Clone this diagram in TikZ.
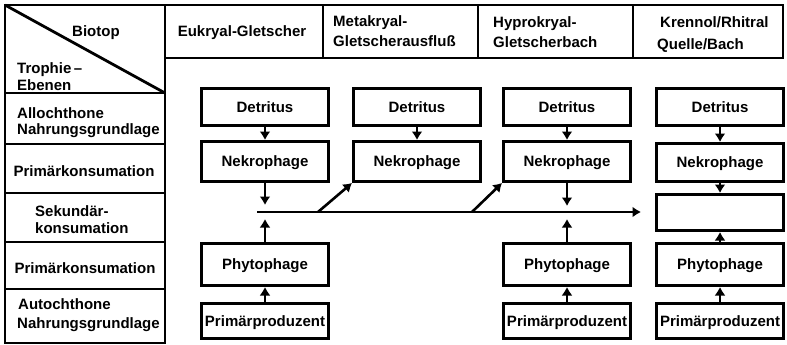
\documentclass[tikz,border=0pt]{standalone}
\usepackage{fontspec}
\setmainfont{Liberation Sans}
\usetikzlibrary{arrows.meta}
\tikzset{
  txt/.style={font=\fontsize{15}{17}\selectfont\bfseries, inner sep=0pt, anchor=base west},
  ctxt/.style={txt, anchor=base},
  box/.style={draw, line width=2.8pt, minimum width=127.2pt, inner sep=0pt,
    text height=10.7pt, text depth=0pt, font=\fontsize{15}{17}\selectfont\bfseries},
  detbox/.style={box, minimum height=37.2pt},
  nekbox/.style={box, minimum height=40.2pt},
  phybox/.style={box, minimum height=42.2pt},
  prodbox/.style={box, minimum height=35.2pt},
  arr/.style={line width=2.6pt, -{Latex[length=8.5pt,width=11pt]}},
  frame/.style={line width=2.8pt}
}
\begin{document}
\begin{tikzpicture}[x=1pt,y=-1pt]
\useasboundingbox (0,0) rectangle (787,345);
% table frame
\draw[frame] (5,5) rectangle (165,343);
\draw[frame] (165,5) rectangle (783,58);
\foreach \xx in {323,478,633} \draw[frame] (\xx,5) -- (\xx,58);
\foreach \yy in {93,144,193,242,289} \draw[frame] (5,\yy) -- (165,\yy);
\draw[frame] (5,5) -- (165,93);
% left column texts
\node[txt] (t1) at (72,37) {Biotop};
\node[txt] (t2) at (17,74) {Trophie\,–};
\node[txt] (t3) at (17,91) {Ebenen};
\node[txt] (t4) at (17,118) {Allochthone};
\node[txt] (t5) at (17,134) {Nahrungsgrundlage};
\node[ctxt] (t6) at (84,176) {Primärkonsumation};
\node[txt] (t7) at (35,216) {Sekundär-};
\node[txt] (t8) at (35,233) {konsumation};
\node[ctxt] (t9) at (85,273) {Primärkonsumation};
\node[txt] (t10) at (18,309) {Autochthone};
\node[txt] (t11) at (17,328) {Nahrungsgrundlage};
% header texts
\node[ctxt] (h1) at (242,37) {Eukryal-Gletscher};
\node[txt] (h2) at (333,27) {Metakryal-};
\node[txt] (h3) at (333,47) {Gletscherausfluß};
\node[txt] (h4) at (493,28) {Hyprokryal-};
\node[txt] (h5) at (493,47.5) {Gletscherbach};
\node[txt] (h6) at (660,28) {Krennol/Rhitral};
\node[txt] (h7) at (657,50) {Quelle/Bach};
% column 1
\node[detbox] (d1) at (265,107) {Detritus};
\node[nekbox] (n1) at (265,161.5) {Nekrophage};
\node[phybox] (p1) at (265,264.5) {Phytophage};
\node[prodbox] (q1) at (265,321) {Primärproduzent};
% column 2
\node[detbox] (d2) at (417,107) {Detritus};
\node[nekbox] (n2) at (417,161.5) {Nekrophage};
% column 3
\node[detbox] (d3) at (567,107) {Detritus};
\node[nekbox] (n3) at (567,161.5) {Nekrophage};
\node[phybox] (p3) at (567,264.5) {Phytophage};
\node[prodbox] (q3) at (567,321) {Primärproduzent};
% column 4
\node[detbox] (d4) at (720,107) {Detritus};
\node[box, minimum height=38.2pt] (n4) at (720,162.5) {Nekrophage};
\node[box, minimum height=36.2pt] (e4) at (720,212.5) {};
\node[phybox] (p4) at (720,264.5) {Phytophage};
\node[prodbox] (q4) at (720,321) {Primärproduzent};
% flow line
\coordinate (L) at (257,212);
\coordinate (R) at (641,212);
\coordinate (s1) at (318,212);
\coordinate (s2) at (472,212);
\coordinate (a1) at (265,205);
\coordinate (b1) at (265,219);
\coordinate (a3) at (567,206);
\coordinate (b3) at (567,219);
\draw[arr] (L) -- (R);
\draw[arr] (s1) -- (n2.south west);
\draw[arr] (s2) -- (n3.south west);
% arrows
\draw[arr] (d1) -- (n1);
\draw[arr] (d2) -- (n2);
\draw[arr] (d3) -- (n3);
\draw[arr] (d4) -- (n4);
\draw[arr] (n1.south) -- (a1);
\draw[arr] (p1.north) -- (b1);
\draw[arr] (q1) -- (p1);
\draw[arr] (n3.south) -- (a3);
\draw[arr] (p3.north) -- (b3);
\draw[arr] (q3) -- (p3);
\draw[arr] (n4) -- (e4);
\draw[arr] (p4) -- (e4);
\draw[arr] (q4) -- (p4);
\end{tikzpicture}
\end{document}
